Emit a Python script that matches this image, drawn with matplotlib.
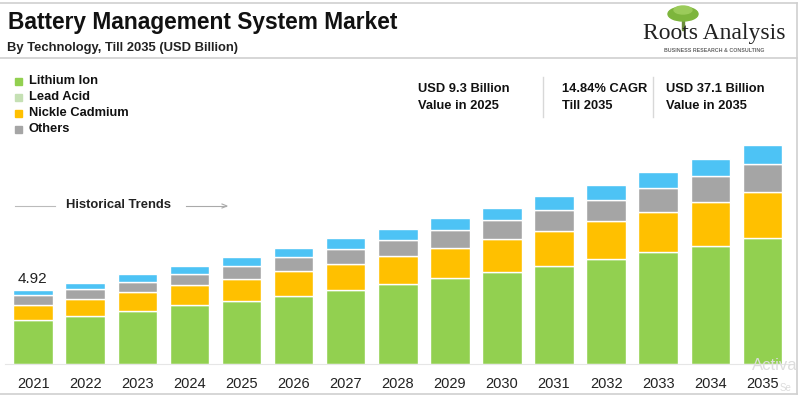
"""Battery Management System Market - stacked bars by technology."""
import matplotlib

matplotlib.use("Agg")
import matplotlib.pyplot as plt
from matplotlib.patches import Ellipse, Rectangle
from matplotlib.lines import Line2D
import numpy as np

plt.rcParams["font.family"] = ["Liberation Sans", "DejaVu Sans"]

W, H = 800, 397

years = ["2021", "2022", "2023", "2024", "2025", "2026", "2027", "2028",
         "2029", "2030", "2031", "2032", "2033", "2034", "2035"]
lithium_ion = [2.93, 3.22, 3.55, 3.91, 4.21, 4.55, 4.95, 5.33, 5.71, 6.10,
               6.52, 6.96, 7.43, 7.88, 8.39]
nickel_cad = [1.02, 1.11, 1.23, 1.33, 1.44, 1.62, 1.73, 1.86, 2.00, 2.22,
              2.35, 2.53, 2.69, 2.91, 3.08]
lead_acid = [0.62, 0.67, 0.67, 0.75, 0.89, 0.93, 0.98, 1.09, 1.20, 1.24,
             1.38, 1.46, 1.57, 1.70, 1.84]
others = [0.35, 0.42, 0.51, 0.53, 0.60, 0.64, 0.71, 0.73, 0.80, 0.84,
          0.93, 1.00, 1.11, 1.18, 1.26]
first_label = "4.92"

legend_names = ["Lithium Ion", "Lead Acid", "Nickle Cadmium", "Others"]
legend_colors = ["#92D050", "#C5E0B4", "#FFC000", "#A5A5A5"]
bar_colors = ["#92D050", "#FFC000", "#A5A5A5", "#4DC3F5"]

stats = [("USD 9.3 Billion", "Value in 2025"),
         ("14.84% CAGR", "Till 2035"),
         ("USD 37.1 Billion", "Value in 2035")]


def fx(px):
    return px / W


def fy(py):
    return 1 - py / H


fig = plt.figure(figsize=(W / 100, H / 100), dpi=100)

# plot area: baseline at y=364px, 15.02 px per unit
base_px, top_px = 364, 364 - 16 * 15.02
ax = fig.add_axes([fx(5), fy(base_px), fx(790) - fx(5), (base_px - top_px) / H])
x = np.arange(len(years))
bottom = np.zeros(len(years))
for vals, col in zip([lithium_ion, nickel_cad, lead_acid, others], bar_colors):
    ax.bar(x, vals, 0.76, bottom=bottom, color=col, edgecolor="white",
           linewidth=1.0)
    bottom += np.array(vals)
ax.set_xlim(-0.54, 14.53)
ax.set_ylim(0, 16)
ax.set_xticks(x)
ax.set_xticklabels(years, fontsize=10.5, color="#222222")
ax.tick_params(axis="x", length=0, pad=9)
ax.set_yticks([])
for s in ("top", "right", "left"):
    ax.spines[s].set_visible(False)
ax.spines["bottom"].set_color("#E6E6E6")
ax.text(x[0] - 0.02, bottom[0] + 0.25, first_label, ha="center", va="bottom",
        fontsize=11, color="#222222")

# header
fig.text(fx(8), fy(22), "Battery Management System Market", fontsize=16.4,
         fontweight="bold", va="center", color="#111111")
fig.text(fx(7), fy(48), "By Technology, Till 2035 (USD Billion)", fontsize=9.4,
         fontweight="bold", va="center", color="#222222")

# frame lines
for seg in [((0, 797), (3, 3)), ((0, 797), (58, 58)), ((797, 797), (3, 394)),
            ((0, 797), (394, 394))]:
    fig.add_artist(Line2D([fx(seg[0][0]), fx(seg[0][1])],
                          [fy(seg[1][0]), fy(seg[1][1])],
                          color="#D0D0D0", linewidth=1.2))

# logo
fig.add_artist(Rectangle((fx(682), fy(30)), fx(2), 12 / H, color="#6B8E3A"))
fig.add_artist(Ellipse((fx(683), fy(14)), 30 / W, 14 / H, color="#7DB53C"))
fig.add_artist(Ellipse((fx(683), fy(10)), 18 / W, 8 / H, color="#9BCB5A"))
fig.text(fx(714), fy(33), "Roots Analysis", fontsize=17, ha="center",
         va="center", family=["Liberation Serif", "DejaVu Serif"],
         color="#222222")
fig.text(fx(714), fy(51), "BUSINESS RESEARCH & CONSULTING", fontsize=3.8,
         ha="center", va="center", color="#666666", fontweight="bold")

# legend
for i, (name, col) in enumerate(zip(legend_names, legend_colors)):
    yy = 81 + i * 16
    fig.add_artist(Rectangle((fx(15), fy(yy + 3.5)), 7 / W, 7 / H, color=col))
    fig.text(fx(29), fy(yy), name, fontsize=9.3, fontweight="bold",
             va="center", color="#111111")

# stat boxes
for (l1, l2), xp in zip(stats, [418, 562, 666]):
    fig.text(fx(xp), fy(89), l1, fontsize=9.3, fontweight="bold", va="center",
             color="#111111")
    fig.text(fx(xp), fy(106), l2, fontsize=9.3, fontweight="bold", va="center",
             color="#111111")
for xp in (543, 653):
    fig.add_artist(Line2D([fx(xp), fx(xp)], [fy(77), fy(117)],
                          color="#D8D8D8", linewidth=1))

# historical trends marker
fig.add_artist(Line2D([fx(15), fx(55)], [fy(206), fy(206)], color="#BBBBBB",
                      linewidth=0.8))
fig.text(fx(66), fy(205), "Historical Trends", fontsize=9.4, fontweight="bold",
         va="center", color="#222222")
fig.add_artist(Line2D([fx(186), fx(226)], [fy(206), fy(206)], color="#AAAAAA",
                      linewidth=0.8))
fig.add_artist(Line2D([fx(222), fx(227), fx(222)], [fy(204), fy(206), fy(208)],
                      color="#AAAAAA", linewidth=0.8))

# faint watermark
fig.text(fx(752), fy(366), "Activa", fontsize=12, color="#DDDDDD",
         va="center", ha="left")
fig.text(fx(780), fy(388), "Se", fontsize=7, color="#DDDDDD",
         va="center", ha="left")

fig.savefig("out.png", dpi=100)
plt.close(fig)
